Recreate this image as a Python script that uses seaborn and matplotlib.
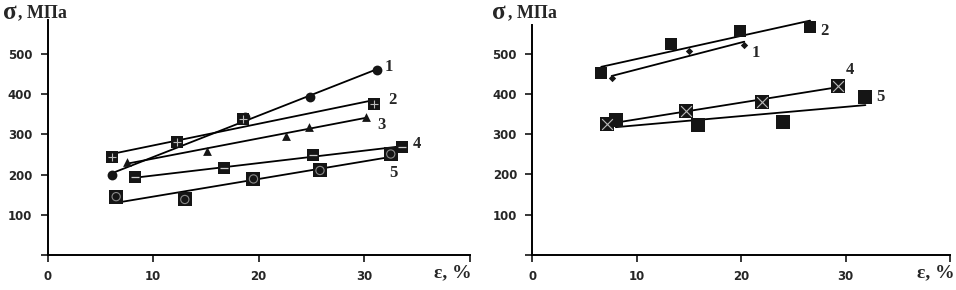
import matplotlib
matplotlib.use("Agg")
import matplotlib.pyplot as plt
import seaborn as sns

# left panel: strain (%) and stress (MPa) for curves 1-5
left_x1 = [6.1, 18.7, 24.9, 31.2]
left_y1 = [200, 342, 392, 461]
left_x2 = [6.1, 12.3, 18.5, 30.9]
left_y2 = [244, 281, 338, 376]
left_x3 = [7.5, 15.1, 22.6, 24.8, 30.2]
left_y3 = [232, 259, 296, 319, 344]
left_x4 = [8.3, 16.7, 25.1, 33.6]
left_y4 = [193, 215, 248, 269]
left_x5 = [6.5, 13.0, 19.5, 25.8, 32.5]
left_y5 = [145, 138, 189, 210, 251]

# right panel: curves 1, 2, 4, 5
right_x1 = [7.6, 15.0, 20.3]
right_y1 = [439, 507, 522]
right_x2 = [6.6, 13.3, 19.9, 26.6]
right_y2 = [451, 523, 557, 567]
right_x4 = [7.2, 14.7, 22.0, 29.3]
right_y4 = [326, 358, 381, 420]
right_x5 = [8.0, 15.9, 24.0, 31.9]
right_y5 = [334, 323, 329, 393]

curve_labels = ["1", "2", "3", "4", "5"]
left_label_pos = [(32.3, 467), (32.7, 386), (31.6, 322), (35.0, 276), (32.8, 204)]
right_label_pos = [(21.4, 501), (28.0, 556), None, (30.4, 460), (33.3, 393)]

x_ticks = [0, 10, 20, 30, 40]
x_ticklabels = ["0", "10", "20", "30", ""]
y_ticks = [0, 100, 200, 300, 400, 500]
y_ticklabels = ["", "100", "200", "300", "400", "500"]

sns.set_style("white")
plt.rcParams["font.family"] = ["DejaVu Sans"]
SERIF = ["Liberation Serif", "DejaVu Serif"]

fig = plt.figure(figsize=(9.56, 2.9), dpi=100)
ax_l = fig.add_axes([0.0497, 0.1207, 0.4419, 0.8103])
ax_r = fig.add_axes([0.5568, 0.1207, 0.4369, 0.7931])

MARK = "#151515"
LINE = dict(color="black", lw=1.3, clip_on=False, zorder=2)


def trend(ax, x, y, marker, size):
    sns.regplot(x=x, y=y, ax=ax, ci=None, truncate=True, marker=marker,
                scatter_kws=dict(s=size, color=MARK, alpha=1, linewidths=0, zorder=3,
                                 clip_on=False),
                line_kws=LINE)


def overlay(ax, x, y, marker, size, lw=1.0, color="white"):
    sns.scatterplot(x=x, y=y, ax=ax, marker=marker, s=size, color=color,
                    linewidth=lw, edgecolor=color, zorder=4, legend=False)


# left panel
trend(ax_l, left_x1, left_y1, "o", 50)
trend(ax_l, left_x2, left_y2, "s", 65)
overlay(ax_l, left_x2, left_y2, "+", 40, 0.8, "#bbbbbb")
trend(ax_l, left_x3, left_y3, "^", 40)
trend(ax_l, left_x4, left_y4, "s", 80)
overlay(ax_l, left_x4, left_y4, "_", 40, 0.9, "#cccccc")
trend(ax_l, left_x5, left_y5, "s", 90)
sns.scatterplot(x=left_x5, y=left_y5, ax=ax_l, marker="o", s=35, facecolor="none",
                edgecolor="#8a8a8a", linewidth=0.8, zorder=4, legend=False)

# right panel
trend(ax_r, right_x1, right_y1, "D", 14)
trend(ax_r, right_x2, right_y2, "s", 65)
trend(ax_r, right_x4, right_y4, "s", 90)
overlay(ax_r, right_x4, right_y4, "x", 60, 0.8, "#bbbbbb")
trend(ax_r, right_x5, right_y5, "s", 90)

for ax, pos, ymax in [(ax_l, left_label_pos, 584), (ax_r, right_label_pos, 571)]:
    ax.set_xlim(0, 40)
    ax.set_ylim(0, ymax)
    ax.set_xticks(x_ticks)
    ax.set_xticklabels(x_ticklabels)
    ax.set_yticks(y_ticks)
    ax.set_yticklabels(y_ticklabels)
    ax.tick_params(axis="both", direction="out", length=5, width=1.1, color="black",
                   labelsize=8.5, pad=6, bottom=True, left=True)
    for lab in ax.get_xticklabels() + ax.get_yticklabels():
        lab.set_fontweight("bold")
    sns.despine(ax=ax)
    for side in ["left", "bottom"]:
        ax.spines[side].set_color("black")
        ax.spines[side].set_linewidth(1.4)
    ax.set_xlabel("")
    ax.set_ylabel("")
    for lab, p in zip(curve_labels, pos):
        if p is not None:
            ax.text(p[0], p[1], lab, family=SERIF, fontsize=12, fontweight="bold",
                    ha="center", va="center")

for x0 in [0.003, 0.515]:
    fig.text(x0, 0.958, "σ", family=SERIF, fontsize=18, fontweight="bold",
             ha="left", va="center")
    fig.text(x0 + 0.016, 0.955, ", МПа", family=SERIF, fontsize=13, fontweight="bold",
             ha="left", va="center")
fig.text(0.474, 0.06, "ε, %", family=SERIF, fontsize=14, fontweight="bold",
         ha="center", va="center")
fig.text(0.979, 0.06, "ε, %", family=SERIF, fontsize=14, fontweight="bold",
         ha="center", va="center")

fig.savefig("out.png", dpi=100)
